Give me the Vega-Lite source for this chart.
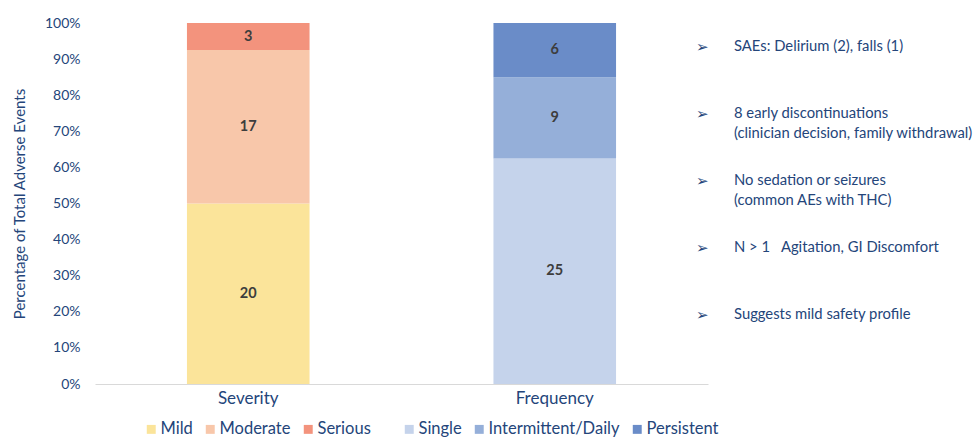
{
  "$schema": "https://vega.github.io/schema/vega-lite/v6.json",
  "background": "white",
  "padding": {"left": 12, "top": 16, "right": 0, "bottom": 0},
  "config": {
    "font": "Lato",
    "view": {"stroke": null},
    "axisY": {"format": ".0%", "values": [0, 0.1, 0.2, 0.3, 0.4, 0.5, 0.6, 0.7, 0.8, 0.9, 1], "grid": false, "ticks": false, "domain": false, "labelPadding": 15, "labelFontSize": 14, "labelColor": "#24457a", "titleFontSize": 15, "titleFontWeight": "normal", "titleColor": "#24457a", "titlePadding": 17},
    "axisX": {"labelAngle": 0, "labelFontSize": 17, "labelColor": "#24457a", "labelPadding": 6, "ticks": false, "domainColor": "#d9d9d9", "domainWidth": 1},
    "legend": {"orient": "none", "direction": "horizontal", "symbolType": "square", "symbolSize": 80, "symbolStrokeWidth": 0, "labelFontSize": 16.5, "labelColor": "#24457a", "columnPadding": 9, "labelOffset": 1}
  },
  "datasets": {
    "ae": [
      {"group": "Severity", "category": "Mild", "count": 20, "order": 1},
      {"group": "Severity", "category": "Moderate", "count": 17, "order": 2},
      {"group": "Severity", "category": "Serious", "count": 3, "order": 3},
      {"group": "Frequency", "category": "Single", "count": 25, "order": 1},
      {"group": "Frequency", "category": "Intermittent/Daily", "count": 9, "order": 2},
      {"group": "Frequency", "category": "Persistent", "count": 6, "order": 3}
    ],
    "notes": [
      {"n": 1, "note": "SAEs: Delirium (2), falls (1)"},
      {"n": 2, "note": "8 early discontinuations\n(clinician decision, family withdrawal)"},
      {"n": 3, "note": "No sedation or seizures\n(common AEs with THC)"},
      {"n": 4, "note": "N > 1\u00a0\u00a0\u00a0Agitation, GI Discomfort"},
      {"n": 5, "note": "Suggests mild safety profile"}
    ]
  },
  "bounds": "flush",
  "spacing": 0,
  "hconcat": [
    {
      "width": 613,
      "height": 361,
      "data": {"name": "ae"},
      "transform": [
        {"stack": "count", "groupby": ["group"], "sort": [{"field": "order", "order": "ascending"}], "offset": "normalize", "as": ["y0", "y1"]}
      ],
      "encoding": {
        "x": {
          "field": "group", "type": "nominal", "sort": ["Severity", "Frequency"], "title": null,
          "scale": {"paddingInner": 0.6, "paddingOuter": 0.3}
        }
      },
      "layer": [
        {
          "transform": [{"filter": "datum.group === 'Severity'"}],
          "mark": {"type": "bar"},
          "encoding": {
            "y": {"field": "y0", "type": "quantitative", "scale": {"domain": [0, 1]}, "title": "Percentage of Total Adverse Events"},
            "y2": {"field": "y1"},
            "color": {
              "field": "category", "type": "nominal",
              "scale": {"domain": ["Mild", "Moderate", "Serious"], "range": ["#fbe49a", "#f8c7aa", "#f3937d"]},
              "legend": {"legendX": 48, "legendY": 398, "title": null}
            }
          }
        },
        {
          "transform": [{"filter": "datum.group === 'Frequency'"}],
          "mark": {"type": "bar"},
          "encoding": {
            "y": {"field": "y0", "type": "quantitative", "scale": {"domain": [0, 1]}, "title": "Percentage of Total Adverse Events"},
            "y2": {"field": "y1"},
            "fill": {
              "field": "category", "type": "nominal",
              "scale": {"domain": ["Single", "Intermittent/Daily", "Persistent"], "range": ["#c5d3eb", "#95afd9", "#6a8cc8"]},
              "legend": {"legendX": 306, "legendY": 398, "title": null}
            }
          }
        },
        {
          "transform": [
            {"fold": ["y0", "y1"], "as": ["edge", "pos"]},
            {"aggregate": [{"op": "mean", "field": "pos", "as": "mid"}], "groupby": ["group", "category", "count"]}
          ],
          "mark": {"type": "text", "fontWeight": "bold", "fontSize": 14.5, "color": "#3d3d3d", "baseline": "middle"},
          "encoding": {
            "y": {"field": "mid", "type": "quantitative", "scale": {"domain": [0, 1]}, "title": "Percentage of Total Adverse Events"},
            "text": {"field": "count", "type": "quantitative"}
          }
        }
      ]
    },
    {
      "width": 250,
      "height": 310,
      "data": {"name": "notes"},
      "encoding": {
        "y": {"field": "n", "type": "ordinal", "scale": {"type": "point", "padding": 0.313}, "axis": null}
      },
      "layer": [
        {
          "mark": {"type": "text", "text": "➢", "font": "DejaVu Sans", "align": "left", "baseline": "top", "fontSize": 15, "dx": -12, "dy": -4, "color": "#24457a"},
          "encoding": {"x": {"value": 0}}
        },
        {
          "mark": {"type": "text", "align": "left", "baseline": "top", "dx": 26, "dy": -5, "fontSize": 14.8, "lineBreak": "\n", "lineHeight": 20, "color": "#24457a"},
          "encoding": {"x": {"value": 0}, "text": {"field": "note"}}
        }
      ]
    }
  ]
}
